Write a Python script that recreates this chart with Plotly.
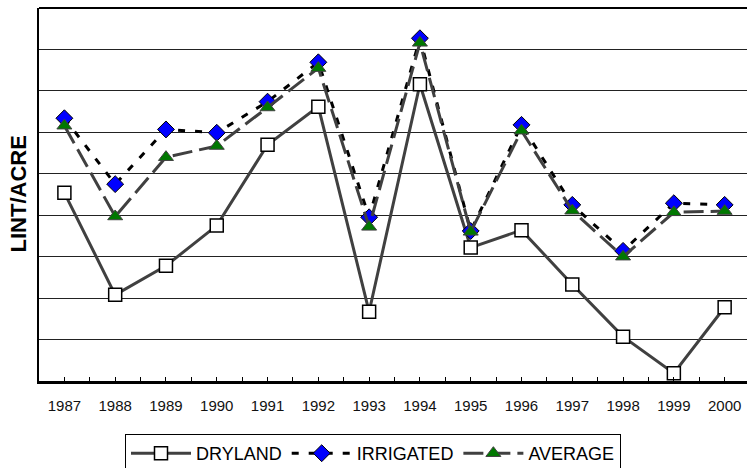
import plotly.graph_objects as go

# Cotton lint yield per acre by year
years = [1987, 1988, 1989, 1990, 1991, 1992, 1993, 1994, 1995, 1996, 1997, 1998, 1999, 2000]
dryland = [454, 208, 278, 375, 570, 662, 167, 716, 322, 364, 233, 107, 19, 178]
irrigated = [634, 475, 607, 599, 674, 769, 395, 827, 362, 618, 425, 314, 429, 425]
average = [616, 397, 540, 567, 660, 755, 372, 816, 360, 604, 411, 300, 407, 410]

FONT = "Liberation Sans, Arial, sans-serif"

fig = go.Figure()

fig.add_trace(go.Scatter(
    x=years, y=dryland, name="DRYLAND", mode="lines+markers",
    line=dict(color="#404040", width=3),
    marker=dict(symbol="square", size=13, color="white",
                line=dict(color="black", width=1.5)),
))
fig.add_trace(go.Scatter(
    x=years, y=irrigated, name="IRRIGATED", mode="lines+markers",
    line=dict(color="black", width=3, dash="7px,10px"),
    marker=dict(symbol="diamond", size=13, color="#0000ff",
                line=dict(color="black", width=1)),
))
fig.add_trace(go.Scatter(
    x=years, y=average, name="AVERAGE", mode="lines+markers",
    line=dict(color="#404040", width=3, dash="20px,7px"),
    marker=dict(symbol="triangle-up", size=13, color="#007800",
                line=dict(color="#404040", width=1)),
))

fig.update_layout(
    width=747, height=468,
    margin=dict(l=39, r=0, t=8, b=87),
    paper_bgcolor="white", plot_bgcolor="white",
    font=dict(family=FONT, color="black"),
    showlegend=True,
    legend=dict(
        orientation="h", xref="container", yref="container",
        x=125 / 747, xanchor="left", y=1 - 434 / 468, yanchor="top",
        bordercolor="black", borderwidth=1, bgcolor="white",
        font=dict(size=18, family=FONT), itemwidth=60,
        tracegroupgap=0,
    ),
    xaxis=dict(
        range=[1986.5, 2000.44], tickvals=years, ticktext=[str(y) for y in years],
        showgrid=False, zeroline=False,
        showline=True, linecolor="black", linewidth=3,
        ticks="inside", ticklen=4, tickcolor="black", tickwidth=1,
        minor=dict(ticks="inside", dtick=0.5, tick0=1986.5, ticklen=4,
                   tickcolor="black", tickwidth=1, showgrid=False),
        tickfont=dict(size=15, family=FONT, color="#111"),
        ticklabelstandoff=9,
    ),
    yaxis=dict(
        range=[0, 900], dtick=100, showticklabels=False,
        showgrid=True, gridcolor="#222", gridwidth=1, zeroline=False,
        showline=True, linecolor="black", linewidth=2, ticks="",
    ),
    shapes=[dict(type="line", xref="paper", yref="paper", x0=0, x1=1, y0=1, y1=1,
                 line=dict(color="black", width=2))],
    annotations=[dict(
        text="<b>LINT/ACRE</b>", textangle=-90, showarrow=False,
        xref="paper", yref="paper", x=(18 - 39) / 708, y=0.5,
        xanchor="center", yanchor="middle",
        font=dict(size=22, family=FONT, color="black"),
    )],
)

fig.write_html("out.html")
